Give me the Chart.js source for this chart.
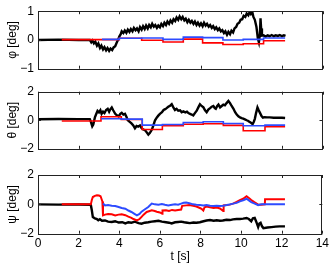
<!DOCTYPE html>
<html><head><meta charset="utf-8">
<script src="https://cdn.jsdelivr.net/npm/chart.js@4.4.1/dist/chart.umd.min.js"></script>
<style>
html,body{margin:0;padding:0;background:#fff;}
#wrap{position:relative;width:332px;height:265px;overflow:hidden;}
.p{position:absolute;left:0;width:332px;}
</style></head><body>
<div id="wrap">
<div class="p" style="top:0;height:80px"><canvas id="c1"></canvas></div>
<div class="p" style="top:80px;height:80px"><canvas id="c2"></canvas></div>
<div class="p" style="top:160px;height:105px"><canvas id="c3"></canvas></div>
</div>
<script>
// ---------- data ----------
const xTicks = [0,2,4,6,8,10,12,14];
const phiTicks = [-1,0,1];
const thetaTicks = [-2,0,2];
const psiTicks = [-2,0,2];
const yLabels = ['\u03c6 [deg]','\u03b8 [deg]','\u03c8 [deg]'];

const phiBlack = [[0,0],[1,0.01],[2,0],[2.55,0.0],[2.62,-0.08],[2.68,-0.02],[2.75,-0.12],[2.82,-0.06],[2.9,-0.2],[2.97,-0.12],[3.05,-0.28],[3.12,-0.2],[3.2,-0.33],[3.27,-0.25],[3.35,-0.36],[3.42,-0.28],[3.5,-0.38],[3.57,-0.3],[3.65,-0.35],[3.72,-0.26],[3.8,-0.22],[3.87,-0.1],[3.95,0.02],[4.0,0.12],[4.07,0.2],[4.12,0.3],[4.2,0.24],[4.27,0.33],[4.35,0.25],[4.42,0.36],[4.5,0.28],[4.57,0.38],[4.65,0.3],[4.72,0.42],[4.8,0.34],[4.87,0.4],[4.95,0.3],[5.02,0.45],[5.1,0.36],[5.17,0.48],[5.25,0.38],[5.32,0.5],[5.4,0.4],[5.47,0.52],[5.55,0.44],[5.62,0.56],[5.7,0.46],[5.77,0.52],[5.85,0.42],[5.92,0.5],[6.0,0.44],[6.07,0.56],[6.15,0.48],[6.22,0.6],[6.3,0.52],[6.37,0.64],[6.45,0.56],[6.52,0.68],[6.6,0.6],[6.67,0.72],[6.75,0.66],[6.82,0.78],[6.9,0.7],[6.97,0.82],[7.05,0.72],[7.12,0.8],[7.2,0.68],[7.27,0.74],[7.35,0.62],[7.42,0.7],[7.5,0.6],[7.57,0.66],[7.65,0.56],[7.72,0.64],[7.8,0.52],[7.87,0.6],[7.95,0.5],[8.02,0.58],[8.1,0.48],[8.17,0.6],[8.25,0.5],[8.32,0.56],[8.4,0.46],[8.47,0.52],[8.55,0.42],[8.62,0.48],[8.7,0.38],[8.77,0.44],[8.85,0.34],[8.92,0.4],[9.0,0.3],[9.07,0.34],[9.15,0.24],[9.22,0.3],[9.3,0.18],[9.37,0.28],[9.45,0.2],[9.52,0.32],[9.6,0.26],[9.67,0.4],[9.75,0.45],[9.82,0.56],[9.9,0.6],[9.97,0.7],[10.05,0.72],[10.12,0.84],[10.2,0.8],[10.27,0.92],[10.35,0.86],[10.42,0.98],[10.48,0.9],[10.55,0.96],[10.6,0.8],[10.67,0.7],[10.75,0.45],[10.82,0.05],[10.87,-0.08],[10.92,0.2],[10.95,0.75],[10.98,0.4],[11.02,0.15],[11.1,0.16],[11.2,0.12],[11.3,0.16],[11.4,0.13],[11.5,0.17],[11.6,0.13],[11.7,0.16],[11.8,0.14],[11.9,0.17],[12.0,0.13],[12.1,0.16],[12.18,0.14]];
const phiRed = [[1.17,0.01],[4.0,0.06],[5.1,-0.01],[6.15,-0.07],[7.15,0.03],[8.1,-0.1],[9.1,-0.16],[10.1,-0.13],[11.1,-0.03],[12.16,-0.03]];
const phiBlue = [[3.15,0.02],[4.0,0.06],[5.1,0.07],[6.15,0.02],[7.15,0.1],[8.1,0.08],[9.1,0.0],[10.1,0.02],[11.1,0.07],[12.16,0.07]];

const thetaBlack = [[0,0.07],[1,0.09],[2,0.08],[2.55,0.08],[2.6,-0.1],[2.67,-0.42],[2.72,-0.3],[2.8,0.2],[2.87,0.45],[2.93,0.65],[3.0,0.55],[3.07,0.7],[3.13,0.45],[3.2,0.6],[3.27,0.5],[3.35,0.72],[3.43,0.8],[3.5,0.6],[3.55,0.75],[3.63,0.9],[3.7,0.7],[3.8,0.45],[3.88,0.35],[3.97,0.27],[4.05,0.45],[4.12,0.52],[4.2,0.4],[4.28,0.45],[4.35,0.25],[4.41,0.02],[4.5,-0.1],[4.6,-0.22],[4.68,-0.35],[4.77,-0.56],[4.85,-0.4],[4.93,-0.45],[5.02,-0.36],[5.1,-0.55],[5.18,-0.65],[5.27,-0.7],[5.35,-0.85],[5.43,-1.01],[5.5,-0.9],[5.6,-0.67],[5.68,-0.35],[5.76,0.0],[5.85,0.2],[5.93,0.34],[6.0,0.45],[6.1,0.56],[6.18,0.72],[6.26,0.78],[6.33,0.85],[6.41,0.94],[6.5,1.02],[6.58,1.12],[6.66,0.9],[6.74,0.72],[6.82,0.8],[6.9,0.67],[6.99,0.7],[7.07,0.56],[7.15,0.62],[7.25,0.55],[7.33,0.6],[7.4,0.5],[7.48,0.45],[7.56,0.4],[7.64,0.34],[7.72,0.5],[7.81,0.67],[7.89,0.9],[7.97,1.12],[8.05,1.0],[8.14,0.9],[8.22,0.7],[8.3,0.56],[8.38,0.75],[8.47,0.85],[8.55,0.95],[8.63,1.0],[8.7,0.85],[8.75,0.8],[8.82,1.0],[8.88,1.1],[8.96,0.9],[9.04,1.0],[9.12,1.1],[9.2,1.05],[9.28,1.2],[9.37,1.35],[9.45,1.2],[9.53,1.0],[9.62,0.8],[9.7,0.56],[9.78,0.4],[9.86,0.27],[9.94,0.2],[10.02,0.15],[10.1,0.11],[10.18,0.06],[10.27,0.0],[10.35,-0.05],[10.4,-0.11],[10.48,-0.18],[10.56,-0.27],[10.62,-0.1],[10.67,0.1],[10.73,0.5],[10.8,0.9],[10.86,0.7],[10.93,0.5],[11.0,0.3],[11.07,0.18],[11.15,0.22],[11.27,0.2],[11.4,0.2],[11.6,0.18],[11.8,0.18],[12.0,0.17],[12.16,0.16]];
const thetaRed = [[1.17,-0.05],[3.1,0.25],[4.1,0.05],[5.13,-0.65],[6.12,-0.39],[7.15,-0.28],[8.13,-0.24],[9.12,-0.36],[10.1,-0.74],[11.17,-0.45],[12.16,-0.45]];
const thetaBlue = [[3.1,0.1],[4.1,0.08],[5.13,-0.34],[6.12,-0.3],[7.15,-0.16],[8.13,-0.1],[9.12,-0.23],[10.1,-0.39],[11.17,-0.34],[12.16,-0.34]];

const psiBlack = [[0,0],[1,-0.02],[2,-0.01],[2.6,-0.03],[2.65,-0.4],[2.7,-0.87],[2.8,-0.95],[2.9,-1.0],[2.97,-1.09],[3.05,-1.02],[3.15,-1.12],[3.3,-1.1],[3.45,-1.18],[3.63,-1.2],[3.8,-1.15],[3.97,-1.24],[4.15,-1.22],[4.3,-1.3],[4.45,-1.22],[4.6,-1.25],[4.77,-1.18],[4.95,-1.28],[5.1,-1.32],[5.25,-1.25],[5.43,-1.22],[5.6,-1.18],[5.76,-1.15],[5.93,-1.12],[6.1,-1.18],[6.3,-1.22],[6.45,-1.25],[6.58,-1.3],[6.75,-1.22],[6.9,-1.2],[7.05,-1.18],[7.2,-1.22],[7.35,-1.25],[7.48,-1.28],[7.65,-1.24],[7.8,-1.25],[7.97,-1.22],[8.15,-1.15],[8.3,-1.1],[8.47,-1.07],[8.65,-1.12],[8.8,-1.08],[8.96,-1.12],[9.1,-1.1],[9.28,-1.05],[9.45,-1.07],[9.6,-1.02],[9.78,-1.0],[9.94,-1.0],[10.1,-0.97],[10.27,-0.93],[10.38,-1.0],[10.5,-1.15],[10.58,-0.95],[10.67,-0.92],[10.75,-1.2],[10.84,-1.55],[10.9,-1.3],[10.96,-1.25],[11.03,-1.5],[11.1,-1.62],[11.3,-1.58],[11.5,-1.55],[11.7,-1.52],[11.9,-1.5],[12.16,-1.5]];
const psiRed = [[1.17,0],[2.6,0],[2.65,0.3],[2.7,0.5],[2.8,0.58],[2.9,0.62],[3.0,0.6],[3.08,0.55],[3.12,0.4],[3.17,0.2],[3.2,-0.75],[3.3,-0.7],[3.45,-0.66],[3.63,-0.68],[3.8,-0.75],[3.97,-0.7],[4.12,-0.68],[4.3,-0.74],[4.45,-0.84],[4.6,-0.92],[4.7,-1.0],[4.87,-1.09],[5.0,-1.0],[5.1,-0.85],[5.2,-0.7],[5.35,-0.52],[5.5,-0.45],[5.6,-0.41],[5.75,-0.45],[5.85,-0.5],[6.0,-0.55],[6.12,-0.64],[6.13,-0.42],[6.3,-0.4],[6.45,-0.45],[6.6,-0.38],[6.75,-0.42],[6.9,-0.38],[7.05,-0.35],[7.1,-0.1],[7.3,-0.07],[7.45,-0.05],[7.64,-0.1],[7.8,-0.15],[7.97,-0.25],[8.05,-0.3],[8.14,-0.42],[8.2,-0.2],[8.3,-0.15],[8.47,-0.2],[8.65,-0.25],[8.8,-0.22],[8.96,-0.28],[9.12,-0.45],[9.14,-0.07],[9.3,-0.05],[9.45,-0.02],[9.6,0.05],[9.78,0.16],[9.94,0.28],[10.1,0.38],[10.27,0.55],[10.4,0.42],[10.5,0.3],[10.65,0.15],[10.84,-0.02],[11.0,-0.02],[11.17,0.0],[11.18,0.34],[12.16,0.34]];
const psiBlue = [[3.2,0.05],[3.3,-0.07],[3.45,-0.05],[3.63,-0.1],[3.8,-0.12],[3.97,-0.18],[4.12,-0.25],[4.3,-0.3],[4.45,-0.42],[4.6,-0.52],[4.75,-0.65],[4.87,-0.75],[5.0,-0.65],[5.1,-0.5],[5.25,-0.35],[5.43,-0.18],[5.6,0.05],[5.75,0.0],[5.93,-0.02],[6.1,0.02],[6.25,-0.03],[6.41,-0.07],[6.6,-0.03],[6.75,0.0],[6.9,-0.02],[7.05,0.05],[7.17,0.11],[7.3,0.12],[7.45,0.08],[7.64,0.0],[7.8,-0.03],[7.97,-0.05],[8.14,-0.07],[8.3,-0.05],[8.47,-0.1],[8.63,-0.12],[8.8,-0.1],[8.96,-0.12],[9.12,-0.1],[9.3,-0.05],[9.45,0.0],[9.61,0.05],[9.78,0.1],[9.94,0.2],[10.1,0.27],[10.27,0.38],[10.4,0.25],[10.5,0.15],[10.67,0.05],[10.84,-0.05],[11.0,0.0],[11.17,0.0],[11.5,0.0],[12.16,0.0]];

// ---------- styling ----------
const FONT = "'Liberation Sans', Arial, sans-serif";
const BLUE = 'rgb(45,75,255)', RED = 'rgb(255,0,0)', BLACK = '#000';
const pts = a => a.map(p => ({x:p[0], y:p[1]}));

const boxPlugin = {
  id:'matlabBox',
  afterDatasetsDraw(chart){
    const {ctx, chartArea:a, scales:{x,y}} = chart;
    const yt = chart.options.plugins.matlabBox.yTicks;
    ctx.save();
    ctx.strokeStyle = '#222'; ctx.lineWidth = 1;
    ctx.strokeRect(Math.round(a.left)+0.5, Math.round(a.top)+0.5, Math.round(a.right-a.left)-1, Math.round(a.bottom-a.top));
    ctx.beginPath();
    const L = 3;
    xTicks.forEach(v=>{
      const px = Math.round(x.getPixelForValue(v))+0.5;
      ctx.moveTo(px, a.top); ctx.lineTo(px, a.top+L);
      ctx.moveTo(px, a.bottom); ctx.lineTo(px, a.bottom-L);
    });
    yt.forEach(v=>{
      const py = Math.round(y.getPixelForValue(v))+0.5;
      ctx.moveTo(a.left, py); ctx.lineTo(a.left+L, py);
      ctx.moveTo(a.right, py); ctx.lineTo(a.right-L, py);
    });
    ctx.stroke();
    ctx.restore();
  }
};

function makeChart(id, black, red, blue, stepped, yTicks, label, padTop, xHeight, showX, cw){
  const ymin = yTicks[0], ymax = yTicks[yTicks.length-1];
  return new Chart(document.getElementById(id), {
    type:'line',
    data:{datasets:[
      {data:pts(blue), borderColor:BLUE, borderWidth:cw, pointRadius:0, stepped:stepped, tension:0},
      {data:pts(red), borderColor:RED, borderWidth:cw, pointRadius:0, stepped:stepped, tension:0},
      {data:pts(black), borderColor:BLACK, borderWidth:2.4, pointRadius:0, tension:0}
    ]},
    options:{
      responsive:true, maintainAspectRatio:false, animation:false,
      layout:{padding:{top:padTop, right:9.5, left:0, bottom:0}},
      plugins:{legend:{display:false}, tooltip:{enabled:false}, matlabBox:{yTicks:yTicks}},
      scales:{
        x:{type:'linear', min:0, max:14,
           grid:{display:false, drawTicks:false}, border:{display:false},
           ticks:{display:showX, stepSize:2, padding:3, color:'#000', font:{family:FONT, size:12}},
           title:{display:showX, text:'t [s]', color:'#000', font:{family:FONT, size:12}, padding:{top:0,bottom:1}},
           afterFit:s=>{s.height = xHeight;}},
        y:{type:'linear', min:ymin, max:ymax,
           grid:{display:false, drawTicks:false}, border:{display:false},
           afterBuildTicks:s=>{s.ticks = yTicks.map(v=>({value:v}));},
           ticks:{padding:4, color:'#000', font:{family:FONT, size:12},
                  callback:v=> v<0 ? '\u2212'+Math.abs(v) : String(v)},
           title:{display:true, text:label, color:'#000', font:{family:FONT, size:12}, padding:{top:5,bottom:0}},
           afterFit:s=>{s.width = 38;}}
      }
    },
    plugins:[boxPlugin]
  });
}

makeChart('c1', phiBlack, phiRed, phiBlue, true, phiTicks, yLabels[0], 9.3, 11.3, false, 1.6);
makeChart('c2', thetaBlack, thetaRed, thetaBlue, true, thetaTicks, yLabels[1], 11.7, 9, false, 1.6);
makeChart('c3', psiBlack, psiRed, psiBlue, false, psiTicks, yLabels[2], 15, 31.3, true, 2);
</script>
</body></html>
